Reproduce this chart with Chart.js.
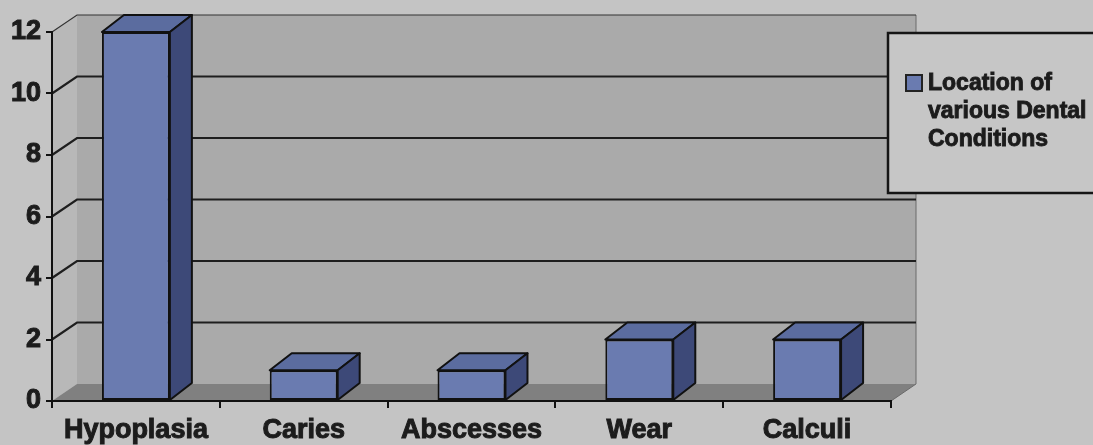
<!DOCTYPE html>
<html>
<head>
<meta charset="utf-8">
<script src="https://cdn.jsdelivr.net/npm/chart.js@4.4.1/dist/chart.umd.min.js"></script>
<style>
  html, body { margin: 0; padding: 0; background: #c4c4c4; }
  #wrap { width: 1093px; height: 445px; position: relative; }
  canvas { display: block; }
</style>
</head>
<body>
<div id="wrap"><canvas id="c" width="1093" height="445"></canvas></div>
<script>
const categories = ['Hypoplasia', 'Caries', 'Abscesses', 'Wear', 'Calculi'];
const counts = [12, 1, 1, 2, 2];
const yTicks = [0, 2, 4, 6, 8, 10, 12];
const seriesLabel = ['Location of', 'various Dental', 'Conditions'];

const FRONT = '#6a7bb0', TOP = '#5b6c9f', SIDE = '#3d4978';
const WALL_DX = 25, WALL_DY = 17, BAR_DX = 22, BAR_DY = 17;
const FONT = '"Liberation Sans", Arial, sans-serif';
const TEXT = '#1c1c1c';

const wallsPlugin = {
  id: 'walls',
  beforeDraw(chart) {
    const ctx = chart.ctx, a = chart.chartArea, ys = chart.scales.y;
    ctx.save();
    ctx.fillStyle = '#c4c4c4';
    ctx.fillRect(0, 0, chart.width, chart.height);
    const L = a.left, R = a.right, T = ys.getPixelForValue(yTicks[yTicks.length - 1]), B = ys.getPixelForValue(0);
    ctx.fillStyle = '#aaaaaa';
    ctx.fillRect(L + WALL_DX, T - WALL_DY, R - L, B - T);
    ctx.fillStyle = '#b8b8b8';
    ctx.beginPath();
    ctx.moveTo(L, B); ctx.lineTo(L + WALL_DX, B - WALL_DY); ctx.lineTo(L + WALL_DX, T - WALL_DY); ctx.lineTo(L, T);
    ctx.closePath(); ctx.fill();
    ctx.fillStyle = '#808080';
    ctx.beginPath();
    ctx.moveTo(L, B); ctx.lineTo(R, B); ctx.lineTo(R + WALL_DX, B - WALL_DY); ctx.lineTo(L + WALL_DX, B - WALL_DY);
    ctx.closePath(); ctx.fill();
    ctx.strokeStyle = '#6a6a6a'; ctx.lineWidth = 1;
    ctx.beginPath();
    ctx.moveTo(R + WALL_DX, T - WALL_DY); ctx.lineTo(R + WALL_DX, B - WALL_DY); ctx.lineTo(R, B);
    ctx.stroke();
    ctx.strokeStyle = '#333'; ctx.lineWidth = 1.2;
    ctx.beginPath();
    ctx.moveTo(L, T); ctx.lineTo(L + WALL_DX, T - WALL_DY); ctx.lineTo(R + WALL_DX, T - WALL_DY);
    ctx.stroke();
    ctx.strokeStyle = '#1e1e1e'; ctx.lineWidth = 2.2;
    yTicks.forEach(v => {
      if (v === 0 || v === yTicks[yTicks.length - 1]) return;
      const y = ys.getPixelForValue(v);
      ctx.beginPath();
      ctx.moveTo(L, y); ctx.lineTo(L + WALL_DX, y - WALL_DY); ctx.lineTo(R + WALL_DX, y - WALL_DY);
      ctx.stroke();
    });
    ctx.restore();
  },
  afterDatasetsDraw(chart) {
    const ctx = chart.ctx;
    const meta = chart.getDatasetMeta(0);
    ctx.save();
    ctx.strokeStyle = '#111'; ctx.lineWidth = 2; ctx.lineJoin = 'round';
    meta.data.forEach(el => {
      const p = el.getProps(['x', 'y', 'base', 'width'], true);
      const l = p.x - p.width / 2, r = p.x + p.width / 2, t = p.y, b = p.base;
      ctx.fillStyle = TOP;
      ctx.beginPath();
      ctx.moveTo(l, t); ctx.lineTo(l + BAR_DX, t - BAR_DY); ctx.lineTo(r + BAR_DX, t - BAR_DY); ctx.lineTo(r, t);
      ctx.closePath(); ctx.fill(); ctx.stroke();
      ctx.fillStyle = SIDE;
      ctx.beginPath();
      ctx.moveTo(r, t); ctx.lineTo(r + BAR_DX, t - BAR_DY); ctx.lineTo(r + BAR_DX, b - BAR_DY); ctx.lineTo(r, b);
      ctx.closePath(); ctx.fill(); ctx.stroke();
    });
    ctx.restore();
  },
  afterDraw(chart) {
    const ctx = chart.ctx;
    ctx.save();
    ctx.fillStyle = '#c6c6c6';
    ctx.fillRect(888, 33, 220, 160);
    ctx.strokeStyle = '#151515'; ctx.lineWidth = 2.5;
    ctx.strokeRect(888, 33, 220, 160);
    ctx.fillStyle = FRONT; ctx.strokeStyle = '#222'; ctx.lineWidth = 2;
    ctx.fillRect(906, 75, 16, 16);
    ctx.strokeRect(906, 75, 16, 16);
    ctx.fillStyle = TEXT; ctx.strokeStyle = TEXT; ctx.lineWidth = 0.9;
    ctx.font = 'bold 23px ' + FONT;
    ctx.textBaseline = 'middle';
    ctx.textAlign = 'left';
    seriesLabel.forEach((s, i) => { ctx.fillText(s, 928, 84 + i * 28); ctx.strokeText(s, 928, 84 + i * 28); });
    ctx.restore();
  }
};

new Chart(document.getElementById('c'), {
  type: 'bar',
  data: {
    labels: categories,
    datasets: [{
      label: seriesLabel.join(' '),
      data: counts,
      backgroundColor: FRONT,
      borderColor: '#111',
      borderWidth: 2,
      borderSkipped: false,
      categoryPercentage: 1,
      barPercentage: 0.405
    }]
  },
  options: {
    responsive: false,
    animation: false,
    devicePixelRatio: 1,
    layout: { padding: { top: 32, right: 202, left: 0, bottom: 0 } },
    plugins: { legend: { display: false }, tooltip: { enabled: false } },
    scales: {
      x: {
        grid: { drawOnChartArea: false, drawTicks: true, tickLength: 7, color: '#111', lineWidth: 2, offset: true },
        border: { color: '#111', width: 2 },
        ticks: { color: TEXT, textStrokeColor: TEXT, textStrokeWidth: 1, font: { family: FONT, size: 27, weight: 'bold' }, padding: 6, maxRotation: 0 },
        afterFit(s) { s.height = 44; }
      },
      y: {
        min: 0, max: 12,
        afterBuildTicks(s) { s.ticks = yTicks.map(v => ({ value: v })); },
        grid: { drawOnChartArea: false, drawTicks: true, tickLength: 6, color: '#111', lineWidth: 2 },
        border: { color: '#111', width: 2 },
        ticks: { color: TEXT, textStrokeColor: TEXT, textStrokeWidth: 1, font: { family: FONT, size: 27, weight: 'bold' }, padding: 5 },
        afterFit(s) { s.width = 52; }
      }
    }
  },
  plugins: [wallsPlugin]
});
</script>
</body>
</html>
